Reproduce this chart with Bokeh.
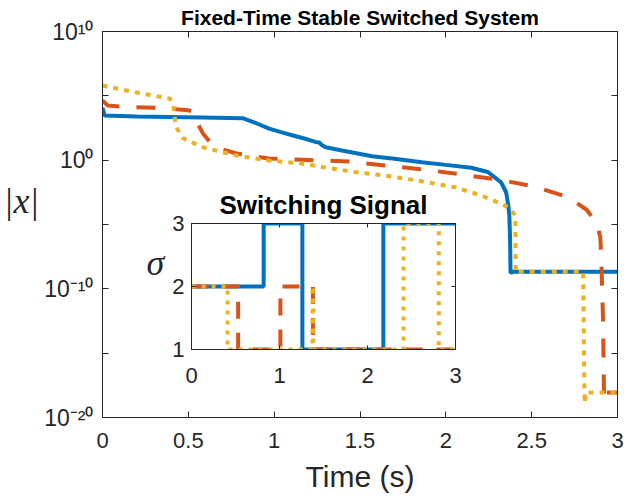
from bokeh.plotting import figure
from bokeh.models import (Range1d, FixedTicker, CustomJSTickFormatter, LinearAxis, LogAxis)
from bokeh.embed import file_html
from bokeh.resources import INLINE

# ---------------- data ----------------
title_text = "Fixed-Time Stable Switched System"
inset_title = "Switching Signal"
x_label = "Time (s)"
y_label = "|x|"
inset_y_label = "σ"

x_ticks = [0, 0.5, 1, 1.5, 2, 2.5, 3]
x_tick_labels = ["0", "0.5", "1", "1.5", "2", "2.5", "3"]
y_tick_exps = [-20, -15, -10, -5, 0, 5, 10]
y_tick_labels = ["10⁻²⁰", "", "10⁻¹⁰", "", "10⁰", "", "10¹⁰"]
inset_x_ticks = [0, 1, 2, 3]
inset_y_ticks = [1, 2, 3]

# |x| trajectories (state norm)
t_blue = [0.000, 0.012, 0.200, 0.580, 0.820, 0.900, 0.970, 1.040, 1.110, 1.180,
          1.240, 1.262, 1.275, 1.300, 1.395, 1.570, 1.700, 1.860, 2.000, 2.148,
          2.245, 2.322, 2.351, 2.364, 2.370, 2.374, 2.377, 2.385, 3.000]
x_blue = [1.2e4, 3.0e3, 2.5e3, 2.1e3, 1.8e3, 7.1e2, 2.8e2, 1.5e2, 8.3e1, 4.6e1,
          2.6e1, 2.4e1, 1.6e1, 1.0e1, 5.6e0, 2.0e0, 1.3e0, 7.0e-1, 4.3e-1, 2.6e-1,
          1.2e-1, 1.9e-2, 3.2e-3, 3.0e-4, 5.0e-5, 1.0e-6, 1.6e-9, 2.1e-9, 2.1e-9]

t_orange = [0.000, 0.030, 0.120, 0.300, 0.500, 0.530, 0.545, 0.585, 0.620, 0.660,
            0.780, 0.970, 1.160, 1.260, 1.434, 1.646, 1.868, 2.090, 2.312, 2.515,
            2.680, 2.740, 2.820, 2.880, 2.900, 2.905, 2.915, 2.922, 2.930, 3.000]
x_orange = [4.4e4, 1.8e4, 1.4e4, 1.2e4, 7.6e3, 5.6e3, 1.2e3, 1.2e2, 3.2e1, 1.0e1,
            3.3e0, 1.35e0, 1.1e0, 9.5e-1, 7.9e-1, 3.9e-1, 1.9e-1, 7.8e-2, 3.0e-2, 9.1e-3,
            1.8e-3, 7.4e-4, 1.4e-4, 1.2e-5, 1.0e-6, 3.2e-8, 1.0e-12, 2.0e-19, 8.9e-19, 8.9e-19]

t_yellow = [0.000, 0.200, 0.390, 0.405, 0.415, 0.420, 0.430, 0.470, 0.585, 0.780,
            0.970, 1.160, 1.280, 1.473, 1.666, 1.859, 2.052, 2.206, 2.322, 2.370,
            2.405, 2.407, 2.415, 2.800, 2.808, 2.818, 3.000]
x_yellow = [6.3e5, 1.8e5, 6.2e4, 4.0e4, 1.0e4, 2.0e3, 3.5e2, 4.9e1, 1.0e1, 2.3e0,
            9.5e-1, 5.5e-1, 2.9e-1, 1.2e-1, 5.8e-2, 2.3e-2, 7.9e-3, 1.8e-3, 4.1e-4, 1.9e-4,
            5.0e-5, 1.8e-9, 2.1e-9, 2.1e-9, 1.3e-19, 8.9e-19, 8.9e-19]

# switching signal sigma(t) (value held until the next switch time)
sw_t_blue = [0.00, 0.82, 1.26, 2.18, 3.00]
sw_blue = [2, 3, 1, 3, 3]
sw_t_orange = [0.00, 0.53, 1.01, 1.38, 3.00]
sw_orange = [2, 1, 2, 1, 1]
sw_t_yellow = [0.00, 0.41, 1.375, 1.385, 2.41, 2.81, 3.00]
sw_yellow = [2, 1, 2, 1, 3, 1, 1]

# ---------------- styles ----------------
BLUE, ORANGE, YELLOW = "#0072BD", "#D95319", "#EDB120"
AX = "#262626"
SANS = "Liberation Sans"
SERIF = "Liberation Serif"

blank = CustomJSTickFormatter(code='return "";')


def style_axis(ax, size, tick_in):
    ax.axis_line_color = AX
    ax.major_tick_line_color = AX
    ax.major_tick_in = tick_in
    ax.major_tick_out = 0
    ax.minor_tick_line_color = None
    ax.major_label_text_color = AX
    ax.major_label_text_font = SANS
    ax.major_label_text_font_size = size


def box_axis(ax):
    style_axis(ax, "0px", ax.major_tick_in)
    ax.major_label_standoff = 0


# ---------------- main figure ----------------
p = figure(width=634, height=500, x_range=Range1d(0, 3), y_range=Range1d(1e-20, 1e10),
           y_axis_type="log", output_backend="svg", toolbar_location=None,
           min_border_left=99, min_border_right=17, min_border_top=31, min_border_bottom=83)
p.grid.visible = False
p.outline_line_color = AX
p.background_fill_color = "white"
p.border_fill_color = "white"

p.title.text = title_text
p.title.align = "center"
p.title.text_font = SANS
p.title.text_font_size = "21px"
p.title.text_font_style = "bold"
p.title.text_color = "black"
p.title.standoff = 5

xt = FixedTicker(ticks=x_ticks, minor_ticks=[])
yt = FixedTicker(ticks=[10.0 ** e for e in y_tick_exps], minor_ticks=[])
xfmt = CustomJSTickFormatter(args=dict(vals=x_ticks, labels=x_tick_labels), code="""
for (let i = 0; i < vals.length; i++) { if (Math.abs(vals[i] - tick) < 1e-9) return labels[i]; }
return "";
""")
yfmt = CustomJSTickFormatter(args=dict(exps=y_tick_exps, labels=y_tick_labels), code="""
const e = Math.round(Math.log10(tick));
for (let i = 0; i < exps.length; i++) { if (exps[i] == e) return labels[i]; }
return "";
""")

xa = p.xaxis[0]
xa.ticker = xt
xa.formatter = xfmt
style_axis(xa, "22px", 6)
xa.major_label_standoff = 15
xa.axis_label = x_label
xa.axis_label_text_font = SANS
xa.axis_label_text_font_style = "normal"
xa.axis_label_text_font_size = "30px"
xa.axis_label_text_color = AX
xa.axis_label_standoff = 9

ya = p.yaxis[0]
ya.ticker = yt
ya.formatter = yfmt
style_axis(ya, "23px", 6)
ya.major_label_standoff = 9
ya.axis_label = y_label + "\n"
ya.axis_label_orientation = "horizontal"
ya.axis_label_text_font = SERIF
ya.axis_label_text_font_style = "italic"
ya.axis_label_text_font_size = "36px"
ya.axis_label_text_color = AX
ya.axis_label_standoff = 2

top = LinearAxis(ticker=xt, formatter=blank, major_tick_in=6)
box_axis(top)
p.add_layout(top, "above")
right = LogAxis(ticker=yt, formatter=blank, major_tick_in=6)
box_axis(right)
p.add_layout(right, "right")

p.line(t_blue, x_blue, line_color=BLUE, line_width=4)
p.line(t_orange, x_orange, line_color=ORANGE, line_width=4, line_dash="19 17")
p.line(t_yellow, x_yellow, line_color=YELLOW, line_width=4, line_dash="5 6")

# ---------------- inset figure (second root, absolutely positioned) ----------------
q = figure(width=336, height=216, x_range=Range1d(0, 3), y_range=Range1d(1, 3),
           output_backend="svg", toolbar_location=None,
           min_border_left=60, min_border_right=12, min_border_top=45, min_border_bottom=45)
q.styles = {"position": "absolute", "left": "131px", "top": "178px"}
q.grid.visible = False
q.border_fill_alpha = 0
q.background_fill_color = "white"
q.outline_line_color = AX
q.title.text = inset_title
q.title.align = "center"
q.title.text_font = SANS
q.title.text_font_size = "26px"
q.title.text_font_style = "bold"
q.title.text_color = "black"
q.title.standoff = 8

qx = q.xaxis[0]
qx.ticker = FixedTicker(ticks=inset_x_ticks, minor_ticks=[])
style_axis(qx, "22px", 4)
qx.major_label_standoff = 18
qy = q.yaxis[0]
qy.ticker = FixedTicker(ticks=inset_y_ticks, minor_ticks=[])
style_axis(qy, "22px", 4)
qy.major_label_standoff = 7
qy.axis_label = inset_y_label + "\n"
qy.axis_label_orientation = "horizontal"
qy.axis_label_text_font = SERIF
qy.axis_label_text_font_style = "italic"
qy.axis_label_text_font_size = "36px"
qy.axis_label_text_color = AX
qy.axis_label_standoff = 5

qtop = LinearAxis(ticker=FixedTicker(ticks=inset_x_ticks, minor_ticks=[]), formatter=blank,
                  major_tick_in=4)
box_axis(qtop)
q.add_layout(qtop, "above")
qright = LinearAxis(ticker=FixedTicker(ticks=inset_y_ticks, minor_ticks=[]), formatter=blank,
                    major_tick_in=4)
box_axis(qright)
q.add_layout(qright, "right")

q.step(sw_t_blue, sw_blue, mode="after", line_color=BLUE, line_width=4)
q.step(sw_t_orange, sw_orange, mode="after", line_color=ORANGE, line_width=4, line_dash="17 14")
q.step(sw_t_yellow, sw_yellow, mode="after", line_color=YELLOW, line_width=4, line_dash="4 6")

open("out.html", "w").write(file_html([p, q], INLINE))
